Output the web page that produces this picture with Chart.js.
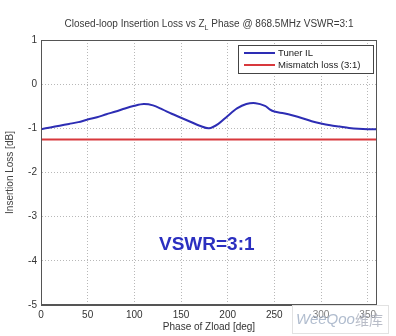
<!DOCTYPE html>
<html>
<head>
<meta charset="utf-8">
<script src="https://cdn.jsdelivr.net/npm/chart.js@4"></script>
<style>
  html, body { margin: 0; padding: 0; background: #fff; }
  #wrap { width: 396px; height: 336px; position: relative; }
</style>
</head>
<body>
<div id="wrap"><canvas id="chartIL" width="396" height="336"></canvas></div>
<script>
// Closed-loop insertion loss of the tuner over load phase
const phaseDeg = [0,10,20,30,40,50,60,70,80,90,100,110,120,130,140,150,160,170,180,
                  190,200,210,220,230,240,245,250,260,270,280,290,300,310,320,330,340,350,360];
const tunerIL  = [-1.02,-0.98,-0.94,-0.90,-0.86,-0.80,-0.75,-0.68,-0.62,-0.55,-0.49,-0.45,-0.48,
                  -0.57,-0.67,-0.76,-0.85,-0.94,-1.00,-0.90,-0.72,-0.55,-0.45,-0.43,-0.49,-0.57,
                  -0.62,-0.66,-0.71,-0.77,-0.84,-0.89,-0.93,-0.96,-0.99,-1.01,-1.02,-1.02];
const mismatchPhase = [0, 360];
const mismatchLoss  = [-1.25, -1.25];
const xTicks = [0,50,100,150,200,250,300,350];
const yTicks = [-5,-4,-3,-2,-1,0,1];
const seriesLabels = ['Tuner IL', 'Mismatch loss (3:1)'];

const FONT = 'Liberation Sans, Arial, sans-serif';
const GRID = '#b8b8b8';
const AXIS = '#555';

// title with subscript, plot frame, legend box and annotation
const decor = {
  id: 'decor',
  afterDraw(chart) {
    const { ctx, chartArea: a } = chart;
    ctx.save();
    // frame
    ctx.strokeStyle = AXIS; ctx.lineWidth = 1;
    ctx.strokeRect(a.left + 0.5, a.top + 0.5, a.right - a.left - 1, a.bottom - a.top - 1);

    // title
    ctx.fillStyle = '#3a3a3a';
    ctx.textBaseline = 'alphabetic';
    const p1 = 'Closed-loop Insertion Loss vs Z', sub = 'L', p2 = ' Phase @ 868.5MHz VSWR=3:1';
    ctx.font = '10px ' + FONT; const w1 = ctx.measureText(p1).width, w3 = ctx.measureText(p2).width;
    ctx.font = '7px ' + FONT; const w2 = ctx.measureText(sub).width;
    let tx = (a.left + a.right) / 2 - (w1 + w2 + w3) / 2;
    const ty = 27;
    ctx.font = '10px ' + FONT; ctx.fillText(p1, tx, ty); tx += w1;
    ctx.font = '7px ' + FONT;  ctx.fillText(sub, tx, ty + 3); tx += w2;
    ctx.font = '10px ' + FONT; ctx.fillText(p2, tx, ty);

    // legend
    const lx = 238, ly = 45, lw = 135, lh = 28;
    ctx.fillStyle = '#fff'; ctx.fillRect(lx, ly, lw, lh);
    ctx.strokeStyle = '#444'; ctx.strokeRect(lx + 0.5, ly + 0.5, lw, lh);
    ctx.font = '9.5px ' + FONT; ctx.textBaseline = 'middle';
    chart.data.datasets.forEach((ds, i) => {
      const yy = ly + 8 + i * 12;
      ctx.strokeStyle = ds.borderColor; ctx.lineWidth = 2;
      ctx.beginPath(); ctx.moveTo(lx + 6, yy); ctx.lineTo(lx + 37, yy); ctx.stroke();
      ctx.fillStyle = '#222'; ctx.fillText(ds.label, lx + 40, yy);
    });

    // annotation
    ctx.font = 'bold 19px ' + FONT; ctx.fillStyle = '#2b2fc0';
    ctx.textBaseline = 'middle'; ctx.textAlign = 'left';
    ctx.fillText('VSWR=3:1', 159, 245);

    // site mark, translucent so the tick labels show through
    ctx.fillStyle = 'rgba(255,255,255,0.35)'; ctx.fillRect(292, 305, 97, 29);
    ctx.strokeStyle = '#e2e2e2'; ctx.lineWidth = 1; ctx.strokeRect(292.5, 305.5, 96, 28);
    ctx.font = 'italic 15px ' + FONT; ctx.fillStyle = 'rgba(150,165,190,0.75)';
    ctx.fillText('WeeQoo', 296, 320);
    ctx.font = '14px Noto Sans CJK SC'; ctx.fillStyle = 'rgba(160,165,180,0.75)';
    ctx.fillText('维库', 355, 320);
    ctx.restore();
  }
};

new Chart(document.getElementById('chartIL'), {
  type: 'line',
  data: {
    datasets: [
      { label: seriesLabels[0], data: phaseDeg.map((p, i) => ({ x: p, y: tunerIL[i] })),
        borderColor: '#2d2db4', borderWidth: 2, pointRadius: 0, tension: 0.3, fill: false },
      { label: seriesLabels[1], data: mismatchPhase.map((p, i) => ({ x: p, y: mismatchLoss[i] })),
        borderColor: '#d8383c', borderWidth: 2, pointRadius: 0, tension: 0, fill: false }
    ]
  },
  options: {
    responsive: false, animation: false,
    layout: { padding: { left: 0, top: 40, right: 19, bottom: 0 } },
    plugins: { legend: { display: false }, tooltip: { enabled: false } },
    scales: {
      x: {
        type: 'linear', min: 0, max: 360,
        afterBuildTicks: s => { s.ticks = xTicks.map(v => ({ value: v })); },
        afterFit: s => { s.height = 31; },
        grid: { color: GRID, drawTicks: false, lineWidth: 1 },
        border: { display: true, color: AXIS, dash: [1, 2] },
        ticks: { color: '#333', font: { family: FONT, size: 10 }, padding: 4, maxRotation: 0 },
        title: { display: true, text: 'Phase of Zload [deg]', color: '#333',
                 font: { family: FONT, size: 10 }, padding: { top: 0, bottom: 3 } }
      },
      y: {
        type: 'linear', min: -5, max: 1,
        afterBuildTicks: s => { s.ticks = yTicks.map(v => ({ value: v })); },
        afterFit: s => { s.width = 41; },
        grid: { color: GRID, drawTicks: false, lineWidth: 1 },
        border: { display: true, color: AXIS, dash: [1, 2] },
        ticks: { color: '#333', font: { family: FONT, size: 10 }, padding: 4 },
        title: { display: true, text: 'Insertion Loss [dB]', color: '#444',
                 font: { family: FONT, size: 10 }, padding: { top: 4, bottom: 0 } }
      }
    }
  },
  plugins: [decor]
});
</script>
</body>
</html>
